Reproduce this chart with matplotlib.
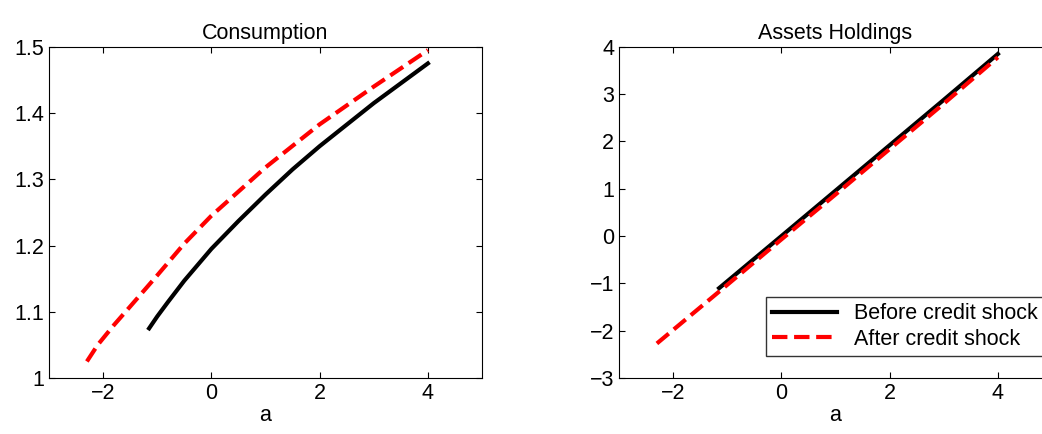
import matplotlib
matplotlib.use("Agg")
import matplotlib.pyplot as plt

plt.rcParams['font.family'] = ['Liberation Sans', 'DejaVu Sans']
plt.rcParams['font.size'] = 15.5

# consumption policy
a_before = [-1.15, -1, -0.8, -0.5, 0, 0.5, 1, 1.5, 2, 3, 4]
c_before = [1.075, 1.093, 1.115, 1.147, 1.195, 1.237, 1.277, 1.315, 1.35, 1.415, 1.475]
a_after = [-2.3, -2.1, -1.8, -1.5, -1, -0.5, 0, 1, 2, 3, 4]
c_after = [1.025, 1.05, 1.08, 1.108, 1.155, 1.203, 1.245, 1.318, 1.383, 1.44, 1.495]

# asset policy
a_before2 = [-1.15, 0, 1, 2, 3, 4]
ap_before = [-1.1, 0.0, 0.96, 1.92, 2.88, 3.85]
a_after2 = [-2.3, -1, 0, 1, 2, 3, 4]
ap_after = [-2.27, -1.03, -0.07, 0.88, 1.84, 2.8, 3.78]

fig = plt.figure(figsize=(10.42, 4.34), dpi=100)
ax1 = fig.add_axes([49/1042, 0.129, 433/1042, 0.763])
ax2 = fig.add_axes([619/1042, 0.129, 433/1042, 0.763])

ax1.plot(a_before, c_before, color='k', lw=3)
ax1.plot(a_after, c_after, color='r', lw=3, ls='--')
ax1.set_xlim(-3, 5)
ax1.set_ylim(1, 1.5)
ax1.set_xticks([-2, 0, 2, 4])
ax1.set_yticks([1, 1.1, 1.2, 1.3, 1.4, 1.5])
ax1.set_yticklabels(['1', '1.1', '1.2', '1.3', '1.4', '1.5'])
ax1.set_title('Consumption', fontsize=15.5)
ax1.set_xlabel('a')

ax2.plot(a_before2, ap_before, color='k', lw=3, label='Before credit shock')
ax2.plot(a_after2, ap_after, color='r', lw=3, ls='--', label='After credit shock')
ax2.set_xlim(-3, 5)
ax2.set_ylim(-3, 4)
ax2.set_xticks([-2, 0, 2, 4])
ax2.set_yticks(range(-3, 5))
ax2.set_title('Assets Holdings', fontsize=15.5)
ax2.set_xlabel('a')
leg = ax2.legend(loc='lower left', bbox_to_anchor=(755/1042, 1 - 367/434),
                 bbox_transform=fig.transFigure, fancybox=False, edgecolor='k',
                 handlelength=3, borderpad=0.3, labelspacing=0.2, fontsize=15.5)
leg.get_frame().set_linewidth(1.0)

for ax in (ax1, ax2):
    ax.tick_params(direction='in', top=True, right=True, length=4)
    ax.xaxis.labelpad = 1

plt.savefig('out.png', dpi=100)
